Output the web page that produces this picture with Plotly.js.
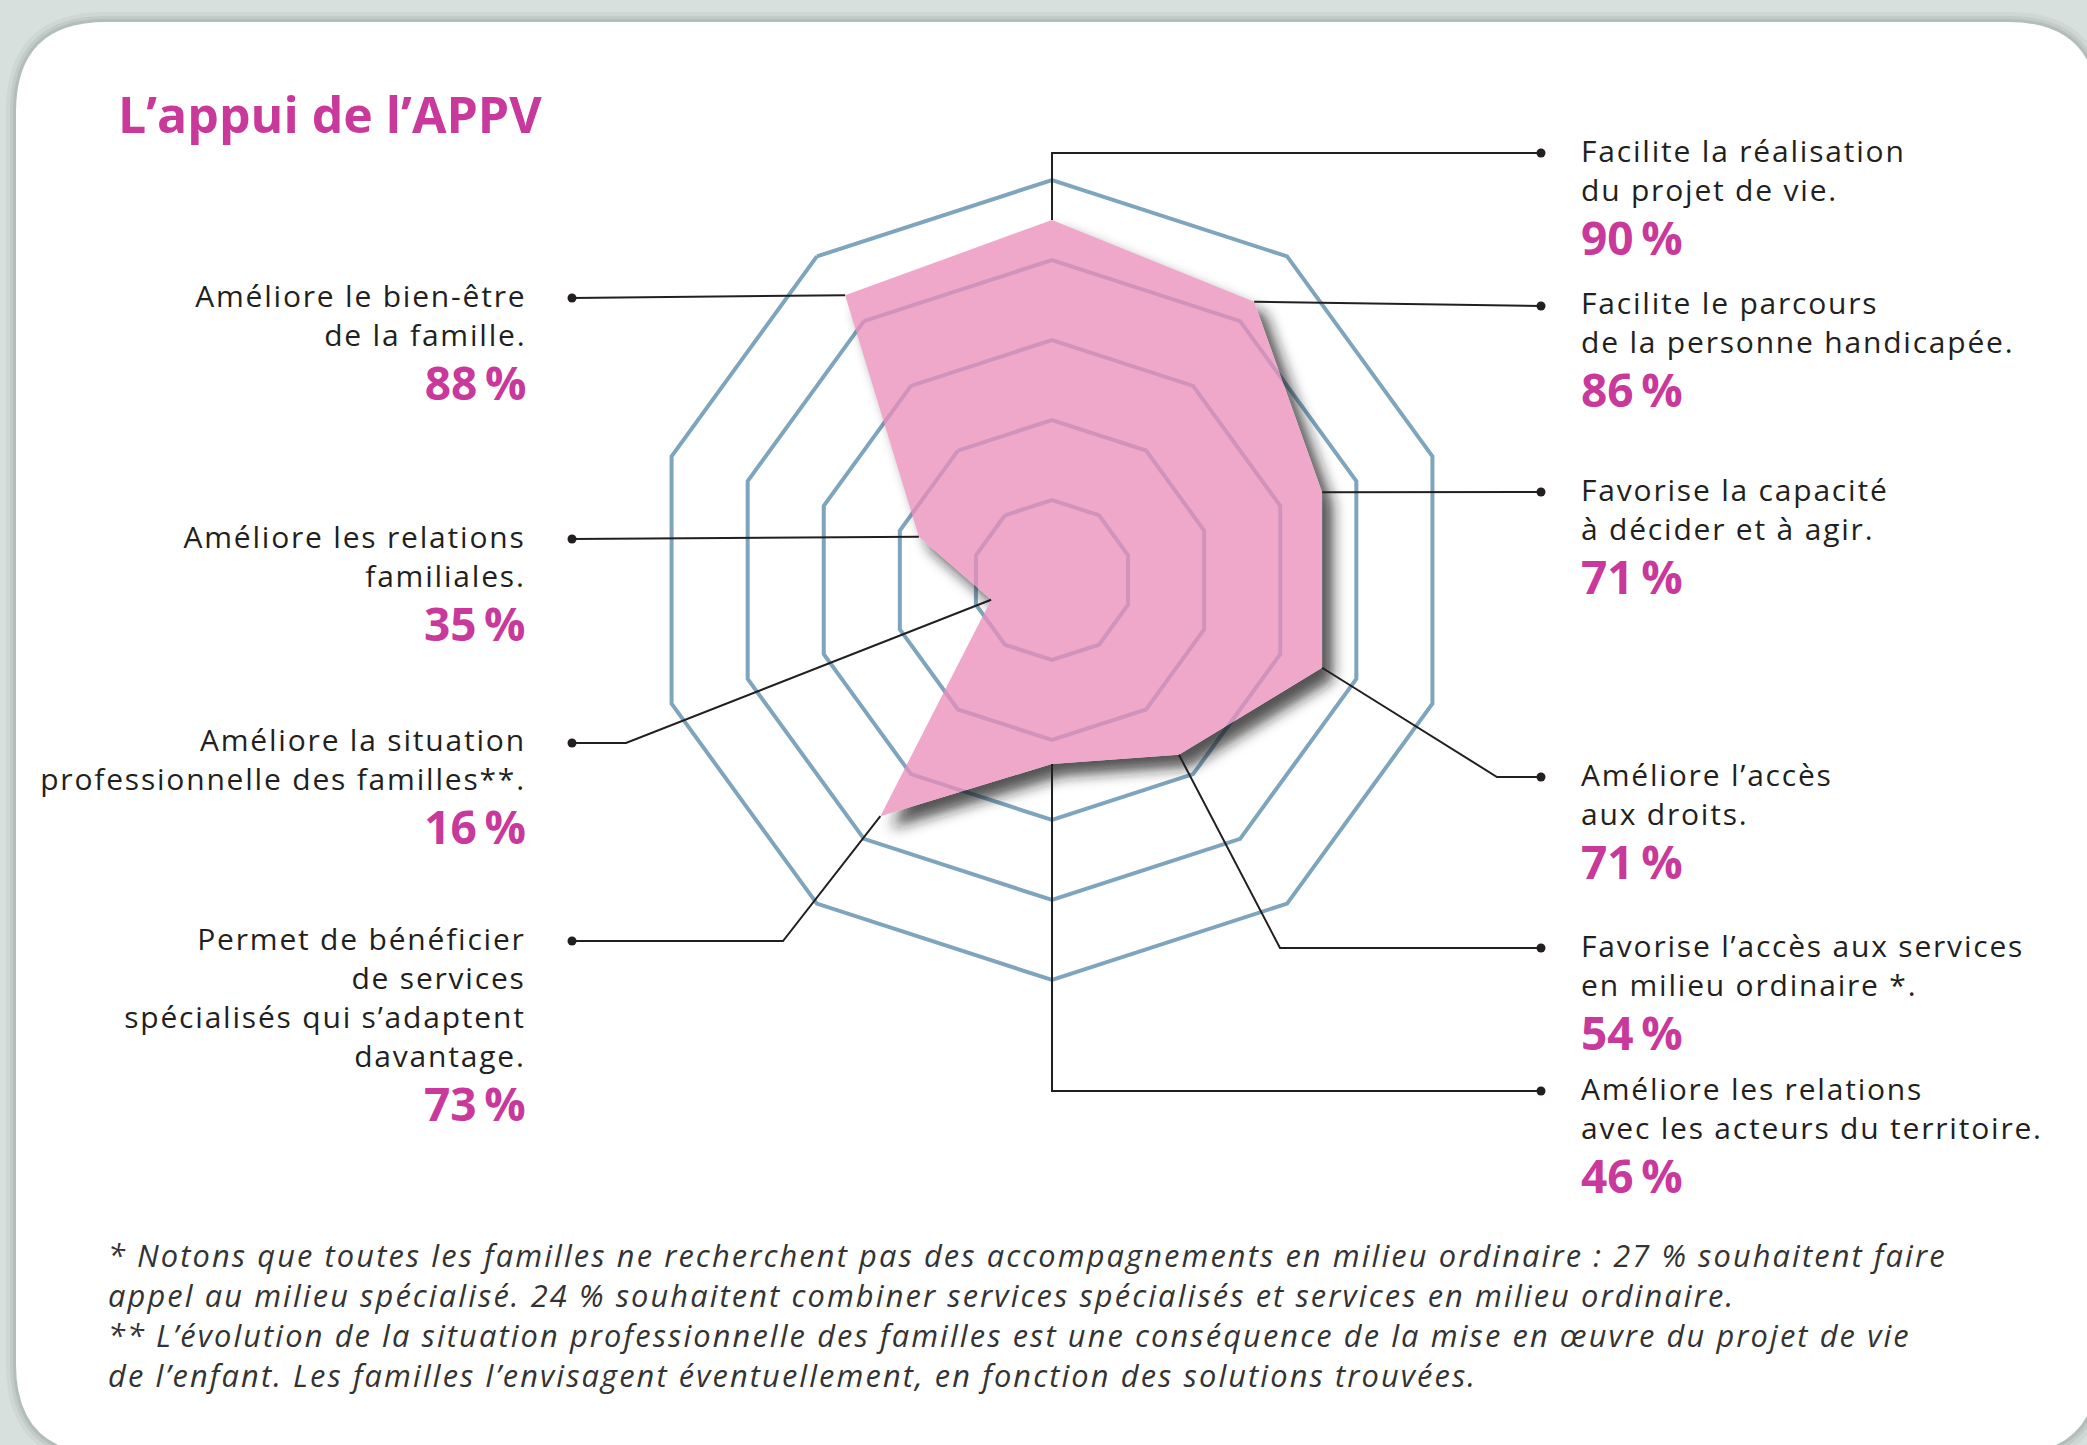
<!DOCTYPE html>
<html>
<head>
<meta charset="utf-8">
<script src="https://cdn.plot.ly/plotly-3.0.1.min.js"></script>
<style>
html,body{margin:0;padding:0;background:#d8e0dd;}
#chart{width:2087px;height:1445px;}
</style>
</head>
<body>
<div id="chart"></div>
<script>
// ---------------- DATA ----------------
const categories = [
  "Facilite la réalisation du projet de vie.",
  "Facilite le parcours de la personne handicapée.",
  "Favorise la capacité à décider et à agir.",
  "Améliore l’accès aux droits.",
  "Favorise l’accès aux services en milieu ordinaire *.",
  "Améliore les relations avec les acteurs du territoire.",
  "Permet de bénéficier de services spécialisés qui s’adaptent davantage.",
  "Améliore la situation professionnelle des familles**.",
  "Améliore les relations familiales.",
  "Améliore le bien-être de la famille."
];
const values = [90, 86, 71, 71, 54, 46, 73, 16, 35, 88];
const labelLines = [
  ["Facilite la réalisation", "du projet de vie."],
  ["Facilite le parcours", "de la personne handicapée."],
  ["Favorise la capacité", "à décider et à agir."],
  ["Améliore l’accès", "aux droits."],
  ["Favorise l’accès aux services", "en milieu ordinaire *."],
  ["Améliore les relations", "avec les acteurs du territoire."],
  ["Permet de bénéficier", "de services", "spécialisés qui s’adaptent", "davantage."],
  ["Améliore la situation", "professionnelle des familles**."],
  ["Améliore les relations", "familiales."],
  ["Améliore le bien-être", "de la famille."]
];
const ringTicks = [20, 40, 60, 80, 100];
const titleText = "L’appui de l’APPV";
const footnotes = [
  "* Notons que toutes les familles ne recherchent pas des accompagnements en milieu ordinaire : 27 % souhaitent faire",
  "appel au milieu spécialisé. 24 % souhaitent combiner services spécialisés et services en milieu ordinaire.",
  "** L’évolution de la situation professionnelle des familles est une conséquence de la mise en œuvre du projet de vie",
  "de l’enfant. Les familles l’envisagent éventuellement, en fonction des solutions trouvées."
];

// ---------------- LAYOUT CONSTANTS ----------------
const W = 2087, H = 1445;
const CX = 1052, CY = 580, RAD = 400;
const MAGENTA = "#c8399b";
const INK = "#231f20";
const RING = "#7ea5bd";
const side = ["R","R","R","R","R","R","L","L","L","L"];
const dotY = [153, 306, 492, 777, 948, 1091, 941, 743, 539, 298];
const elbowX = ["v", null, null, 1497, 1280, "v", 783, 626, null, null];
const DOT_X = {R: 1541, L: 572};
const TEXT_X = {R: 1579, L: 528};
const LABEL_SIZE = 30, LABEL_STEP = LABEL_SIZE * 1.3, PCT_SIZE = 46, PCT_DROP = 54;
const FOOT_SIZE = 30.8;

const px = x => x / W;
const py = y => 1 - y / H;

// ---------------- TRACES ----------------
const shadowTrace = {
  type: "scatterpolar", r: values.concat([values[0]]), theta: categories.concat([categories[0]]),
  mode: "lines", fill: "toself", fillcolor: "rgba(25,25,25,0.75)",
  line: {width: 0, color: "rgba(0,0,0,0)"}, hoverinfo: "skip", showlegend: false
};
const pinkTrace = {
  type: "scatterpolar", r: values.concat([values[0]]), theta: categories.concat([categories[0]]),
  mode: "lines", fill: "toself", fillcolor: "rgba(234,142,186,0.77)",
  line: {width: 0, color: "rgba(0,0,0,0)"}, hoverinfo: "skip", showlegend: false
};

// ---------------- SHAPES ----------------
const shapes = [];
function roundRect(x0, y0, x1, y1, r) {
  return "M" + px(x0 + r) + "," + py(y0) +
    " L" + px(x1 - r) + "," + py(y0) +
    " Q" + px(x1) + "," + py(y0) + " " + px(x1) + "," + py(y0 + r) +
    " L" + px(x1) + "," + py(y1 - r) +
    " Q" + px(x1) + "," + py(y1) + " " + px(x1 - r) + "," + py(y1) +
    " L" + px(x0 + r) + "," + py(y1) +
    " Q" + px(x0) + "," + py(y1) + " " + px(x0) + "," + py(y1 - r) +
    " L" + px(x0) + "," + py(y0 + r) +
    " Q" + px(x0) + "," + py(y0) + " " + px(x0 + r) + "," + py(y0) + " Z";
}
[[10, "rgba(120,135,130,0.10)"], [6, "rgba(120,135,130,0.14)"], [3, "rgba(110,125,120,0.18)"]].forEach(function(s){
  shapes.push({type: "path", xref: "paper", yref: "paper", layer: "below",
    path: roundRect(16 - s[0], 22 - s[0], 2098 + s[0], 1454 + s[0], 90 + s[0]),
    fillcolor: s[1], line: {width: 0}});
});
shapes.push({type: "path", xref: "paper", yref: "paper", layer: "below",
  path: roundRect(16, 22, 2098, 1454, 90), fillcolor: "#ffffff", line: {width: 0}});

// leader lines from each data vertex
values.forEach(function(v, i){
  const ang = i * 2 * Math.PI / values.length;
  const vx = CX + RAD * v / 100 * Math.sin(ang);
  const vy = CY - RAD * v / 100 * Math.cos(ang);
  const dx = DOT_X[side[i]], dy = dotY[i];
  let path = "M" + px(vx) + "," + py(vy);
  if (elbowX[i] === "v") path += " L" + px(vx) + "," + py(dy);
  else if (elbowX[i] !== null) path += " L" + px(elbowX[i]) + "," + py(dy);
  path += " L" + px(dx) + "," + py(dy);
  shapes.push({type: "path", xref: "paper", yref: "paper", layer: "above", path: path,
    line: {color: INK, width: 2}});
  shapes.push({type: "circle", xref: "paper", yref: "paper", layer: "above",
    x0: px(dx - 4.5), x1: px(dx + 4.5), y0: py(dy - 4.5), y1: py(dy + 4.5),
    fillcolor: INK, line: {width: 0}});
});

// ---------------- ANNOTATIONS ----------------
const annotations = [];
const annInfo = [];
annotations.push({xref: "paper", yref: "paper", x: px(116), y: py(114), xanchor: "left", yanchor: "middle",
  showarrow: false, text: "<b>" + titleText + "</b>",
  font: {family: "Open Sans", size: 50, color: MAGENTA}});
annInfo.push(null);
labelLines.forEach(function(lines, i){
  const s = side[i];
  const n = lines.length;
  annotations.push({xref: "paper", yref: "paper", x: px(TEXT_X[s]), y: py(dotY[i] - 25.5),
    xanchor: s === "R" ? "left" : "right", yanchor: "top", align: s === "R" ? "left" : "right",
    showarrow: false,
    text: lines.join("<br>") + "<br><span style=\"font-size:" + PCT_SIZE + "px;color:" + MAGENTA + "\"><b>" +
      values[i] + "\u2009%</b></span>",
    font: {family: "Open Sans", size: LABEL_SIZE, color: INK}});
  annInfo.push({tracking: 1.8, nLines: n});
});
annotations.push({xref: "paper", yref: "paper", x: px(106), y: py(1255 + FOOT_SIZE * 1.3 * 1.5),
  xanchor: "left", yanchor: "middle", align: "left", showarrow: false,
  text: footnotes.map(function(t){ return "<i>" + t + "</i>"; }).join("<br>"),
  font: {family: "Open Sans", size: FOOT_SIZE, color: "#333333"}});
annInfo.push({tracking: 2.1});

// ---------------- LAYOUT ----------------
const layout = {
  width: W, height: H,
  margin: {l: 0, r: 0, t: 0, b: 0, pad: 0},
  paper_bgcolor: "#d8e0dd",
  showlegend: false,
  polar: {
    domain: {x: [px(CX - RAD), px(CX + RAD)], y: [py(CY + RAD), py(CY - RAD)]},
    bgcolor: "rgba(0,0,0,0)",
    gridshape: "linear",
    radialaxis: {range: [0, 100], tickvals: ringTicks, showticklabels: false, ticks: "",
      showline: false, gridcolor: RING, gridwidth: 4, angle: 90},
    angularaxis: {type: "category", categoryarray: categories, rotation: 90, direction: "clockwise",
      showticklabels: false, ticks: "", showgrid: false, showline: true, linecolor: RING, linewidth: 4}
  },
  shapes: shapes,
  annotations: annotations
};

const gd = document.getElementById("chart");
Plotly.newPlot(gd, [shadowTrace, pinkTrace], layout, {staticPlot: true, displayModeBar: false}).then(function(){
  // tracking of the texts, and extra gap before the percentage line
  gd.querySelectorAll("g.annotation").forEach(function(g){
    const info = annInfo[+g.getAttribute("data-index")];
    if (!info) return;
    const t = g.querySelector("text.annotation-text");
    if (!t) return;
    t.style.letterSpacing = info.tracking + "px";
    if (info.nLines) {
      const ls = t.querySelectorAll("tspan.line");
      if (ls.length === info.nLines + 1) {
        const last = ls[ls.length - 1];
        last.setAttribute("dy", ((info.nLines - 1) * LABEL_STEP + PCT_DROP) + "px");
        last.style.letterSpacing = "0px";
      }
    }
  });
  // soft drop shadow of the radar polygon, kept outside the polygon
  const NS = "http://www.w3.org/2000/svg";
  const fills = gd.querySelectorAll(".polarlayer path.js-fill");
  if (fills.length < 2) return;
  const shadowPath = fills[0], pinkPath = fills[1];
  const svg = gd.querySelector("svg.main-svg");
  let defs = svg.querySelector("defs");
  if (!defs) { defs = document.createElementNS(NS, "defs"); svg.insertBefore(defs, svg.firstChild); }
  const f = document.createElementNS(NS, "filter");
  f.setAttribute("id", "radarShadow");
  f.setAttribute("filterUnits", "userSpaceOnUse");
  f.setAttribute("x", "-3000"); f.setAttribute("y", "-3000");
  f.setAttribute("width", "6000"); f.setAttribute("height", "6000");
  const off = document.createElementNS(NS, "feOffset");
  off.setAttribute("in", "SourceGraphic"); off.setAttribute("dx", "11"); off.setAttribute("dy", "12");
  off.setAttribute("result", "o");
  const blur = document.createElementNS(NS, "feGaussianBlur");
  blur.setAttribute("in", "o"); blur.setAttribute("stdDeviation", "7");
  f.appendChild(off); f.appendChild(blur);
  defs.appendChild(f);
  const m = document.createElementNS(NS, "mask");
  m.setAttribute("id", "radarMask");
  m.setAttribute("maskUnits", "userSpaceOnUse");
  m.setAttribute("x", "-3000"); m.setAttribute("y", "-3000");
  m.setAttribute("width", "6000"); m.setAttribute("height", "6000");
  const rect = document.createElementNS(NS, "rect");
  rect.setAttribute("x", "-3000"); rect.setAttribute("y", "-3000");
  rect.setAttribute("width", "6000"); rect.setAttribute("height", "6000");
  rect.setAttribute("fill", "white");
  const hole = document.createElementNS(NS, "path");
  hole.setAttribute("d", pinkPath.getAttribute("d"));
  hole.setAttribute("fill", "black");
  m.appendChild(rect); m.appendChild(hole);
  defs.appendChild(m);
  shadowPath.setAttribute("filter", "url(#radarShadow)");
  shadowPath.setAttribute("mask", "url(#radarMask)");
});
</script>
</body>
</html>
